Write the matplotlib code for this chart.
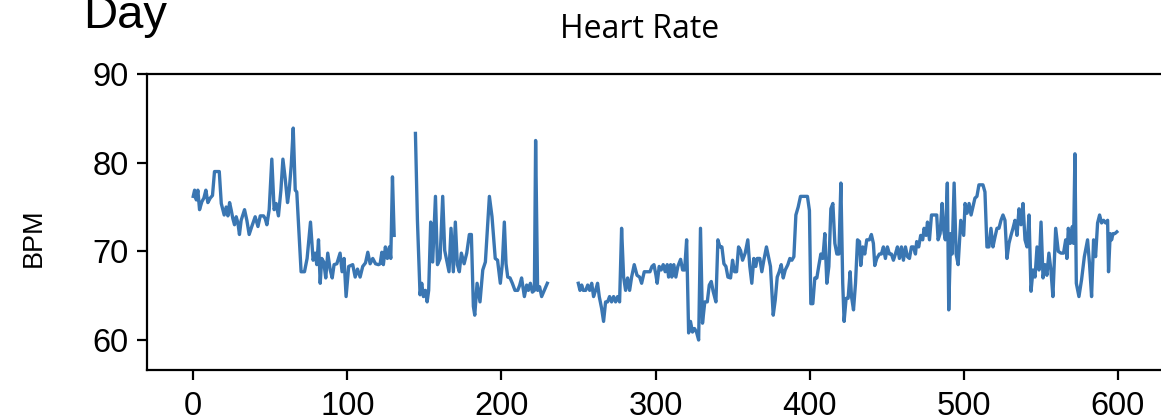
import numpy as np
import matplotlib
matplotlib.use("Agg")
import matplotlib.pyplot as plt

nan = np.nan

day = [
    0, 0.9, 2.0, 3.0, 4.1, 5.6, 6.9, 8.2, 9.5, 11.0,
    12.5, 13.8, 15.3, 16.9, 18.2, 20.1, 21.4, 22.5, 23.6, 24.6,
    25.7, 26.8, 27.9, 29.0, 30.0, 31.1, 33.3, 34.8, 36.3, 38.0,
    40.2, 42.0, 43.5, 45.6, 46.7, 47.8, 49.3, 51.0, 52.5, 53.8,
    55.3, 56.9, 58.2, 59.7, 61.2, 62.3, 63.6, 64.9, 66.2, 67.2,
    70.0, 72.2, 73.9, 76.1, 77.8, 79.1, 80.2, 81.3, 82.4, 83.4,
    84.7, 86.0, 87.3, 88.9, 90.2, 91.4, 93.2, 95.3, 96.6, 97.9,
    99.2, 100.9, 103.5, 105.1, 106.6, 108.3, 110.0, 111.8, 113.3, 114.8,
    116.5, 118.3, 120.2, 121.3, 122.4, 123.4, 124.7, 126.0, 127.3, 128.2,
    129.3, 130.4,
    137,
    144.2, 145.5, 147.2, 148.3, 149.4, 150.7, 151.8, 152.8, 154.1, 155.4,
    157.2, 158.5, 160.2, 161.9, 163.2, 164.5, 166.0, 167.3, 168.8, 170.1,
    171.4, 172.7, 174.0, 175.8, 177.5, 179.2, 180.5, 181.8, 182.7, 184.2,
    186.1, 187.9, 189.6, 192.2, 193.9, 196.0, 197.5, 199.3, 200.6, 201.9,
    203.0, 204.1, 205.6, 207.1, 208.8, 210.6, 211.9, 213.1, 214.9, 216.4,
    217.5, 218.8, 220.1, 221.4, 222.2, 223.5, 224.8, 226.1, 227.8, 229.8,
    240,
    249.9, 251.0, 252.1, 253.1, 254.7, 256.0, 257.3, 258.6, 259.8, 261.1,
    262.4, 263.5, 265.0, 266.3, 267.6, 268.9, 270.2, 271.5, 272.8, 274.1,
    275.4, 276.7, 278.0, 279.3, 280.6, 281.9, 283.2, 284.5, 286.2, 288.0,
    289.7, 291.0, 292.7, 294.9, 296.4, 297.7, 299.0, 300.3, 301.1, 302.4,
    303.7, 305.0, 306.3, 307.6, 308.5, 309.8, 310.6, 311.9, 313.2, 314.5,
    316.3, 317.6, 318.9, 320.2, 321.5, 322.7, 324.0, 325.3, 326.6, 328.0,
    329.2, 330.5, 332.0, 333.6, 334.9, 336.2, 337.4, 339.2, 340.5, 341.8,
    343.1, 344.4, 345.7, 347.0, 348.7, 350.0, 351.3, 352.6, 353.9, 355.2,
    356.5, 358.2, 359.9, 361.2, 362.5, 363.8, 365.1, 366.0, 367.7, 369.0,
    370.3, 372.0, 373.3, 374.6, 376.4, 377.7, 379.0, 380.3, 381.6, 382.9,
    384.2, 385.9, 387.2, 388.5, 389.8, 391.1, 392.6, 394.1, 395.8, 397.5,
    398.6, 399.9, 400.8, 402.1, 403.4, 404.7, 406.0, 407.3, 408.6, 409.9,
    411.2, 412.5, 413.8, 415.1, 416.4, 417.7, 419.0, 420.3, 421.5, 422.4,
    423.7, 425.0, 426.3, 427.2, 428.5, 429.8, 431.1, 432.4, 433.2, 434.5,
    435.8, 437.1, 438.8, 440.1, 441.4, 442.3, 443.6, 445.3, 446.6, 447.9,
    449.2, 450.5, 451.8, 453.1, 454.4, 455.7, 457.0, 458.3, 459.6, 460.9,
    462.2, 463.5, 464.8, 466.1, 467.4, 468.7, 469.5, 470.8, 472.1, 473.4,
    474.3, 475.6, 476.5, 477.8, 479.1, 481.2, 482.5, 483.4, 484.7, 486.0,
    486.8, 488.1, 489.4, 490.3, 491.6, 492.5, 493.8, 495.1, 496.4, 498.1,
    500.0, 500.9, 502.2, 503.5, 504.8, 506.0, 507.3, 508.6, 509.9, 511.2,
    512.5, 513.8, 515.1, 516.4, 517.7, 519.0, 520.3, 521.6, 522.9, 524.2,
    525.5, 526.8, 528.1, 529.4, 530.7, 532.0, 533.3, 534.6, 535.9, 537.2,
    538.5, 539.8, 541.1, 542.4, 543.7, 545.0, 546.3, 547.6, 548.9, 550.2,
    551.5, 552.8, 554.0, 555.3, 556.6, 557.9, 559.7, 561.4, 563.1, 564.8,
    566.2, 567.0, 567.9, 569.2, 570.5, 571.3, 572.2, 573.1, 574.8, 576.5,
    578.3, 580.4, 581.7, 583.0, 584.3, 585.6, 586.9, 588.2, 589.5, 590.8,
    592.1, 593.4, 594.0, 595.1, 596.0, 596.9, 598.1, 599.4,
]

bpm = [
    76.2, 76.9, 75.8, 76.9, 74.7, 75.6, 76.0, 76.9, 75.5, 76.0,
    76.3, 79.0, 79.0, 79.0, 75.4, 74.1, 75.0, 74.0, 75.5, 74.7,
    73.7, 73.0, 73.9, 73.2, 71.9, 73.5, 74.7, 73.5, 71.9, 72.8,
    73.9, 72.8, 74.0, 74.0, 73.7, 73.0, 74.7, 80.4, 74.7, 75.4,
    74.0, 76.9, 80.4, 78.2, 75.5, 76.9, 79.7, 83.9, 76.9, 76.7,
    67.7, 67.7, 69.2, 73.3, 69.0, 69.8, 68.5, 71.3, 66.4, 69.2,
    68.8, 67.0, 69.8, 67.9, 67.0, 68.5, 68.6, 69.8, 67.7, 69.2,
    64.9, 68.3, 68.5, 67.1, 68.0, 67.1, 68.3, 68.7, 69.9, 68.6,
    69.2, 68.6, 68.5, 68.6, 69.9, 68.5, 70.5, 69.2, 70.5, 69.2,
    78.4, 71.8,
    nan,
    83.3, 73.5, 65.1, 66.4, 64.9, 65.6, 64.3, 65.6, 73.3, 68.8,
    76.2, 68.5, 69.2, 76.2, 70.1, 69.0, 67.7, 72.6, 67.7, 73.3,
    68.5, 67.7, 69.8, 68.6, 69.8, 71.9, 71.9, 63.8, 62.8, 66.4,
    64.3, 67.9, 68.8, 76.2, 73.9, 69.2, 69.0, 66.4, 68.6, 73.3,
    68.6, 67.1, 67.0, 66.4, 65.6, 65.6, 66.2, 67.0, 64.9, 66.2,
    65.6, 66.4, 65.4, 65.6, 82.5, 65.6, 66.0, 64.9, 65.6, 66.4,
    nan,
    66.4, 65.6, 66.2, 65.6, 65.6, 66.2, 65.6, 66.4, 64.9, 65.6,
    66.4, 64.9, 63.6, 62.1, 64.3, 64.3, 64.9, 64.3, 64.9, 64.3,
    64.9, 64.3, 72.6, 67.1, 65.6, 67.0, 65.6, 67.1, 68.5, 67.3,
    67.1, 66.4, 67.7, 67.7, 67.7, 68.3, 68.5, 67.3, 66.4, 68.3,
    67.9, 68.5, 67.7, 68.5, 67.1, 68.5, 67.1, 68.5, 67.1, 68.3,
    69.1, 67.9, 67.9, 71.3, 60.8, 62.1, 60.9, 61.3, 60.9, 60.0,
    72.6, 61.9, 64.3, 64.3, 66.2, 66.6, 65.5, 64.3, 71.3, 70.5,
    70.5, 68.6, 68.3, 67.1, 67.0, 69.0, 67.7, 67.7, 70.5, 70.1,
    69.0, 69.8, 71.3, 68.3, 66.4, 69.2, 68.3, 69.2, 69.2, 67.7,
    69.0, 70.5, 69.4, 68.3, 62.8, 64.5, 67.1, 67.7, 68.5, 67.0,
    67.9, 68.5, 69.2, 69.0, 69.4, 74.1, 75.0, 76.2, 76.2, 76.2,
    76.2, 74.6, 64.1, 64.1, 67.0, 67.0, 68.4, 69.7, 69.2, 72.0,
    66.4, 68.3, 74.8, 75.4, 70.9, 69.7, 69.7, 77.7, 66.4, 62.1,
    64.7, 64.7, 67.7, 64.9, 63.4, 66.4, 71.3, 71.1, 68.4, 70.5,
    69.7, 71.3, 71.3, 71.9, 70.9, 68.4, 69.2, 69.7, 69.7, 70.5,
    69.2, 70.5, 69.7, 69.7, 69.0, 69.7, 70.5, 69.2, 70.5, 69.0,
    70.5, 69.4, 69.2, 70.5, 70.5, 69.7, 71.1, 70.5, 71.8, 71.3,
    72.6, 71.8, 73.3, 71.3, 74.1, 74.1, 74.1, 71.3, 72.0, 75.4,
    72.6, 71.3, 77.7, 63.4, 72.0, 69.7, 77.7, 69.7, 68.5, 73.5,
    71.8, 75.4, 74.3, 75.4, 74.1, 75.0, 76.0, 76.2, 77.5, 77.5,
    77.5, 76.7, 70.5, 70.5, 72.6, 70.5, 71.6, 72.6, 72.6, 73.5,
    74.1, 73.5, 69.2, 70.9, 71.8, 72.6, 73.5, 71.8, 74.8, 73.0,
    75.4, 71.3, 70.5, 74.1, 65.5, 67.9, 67.1, 70.5, 67.9, 73.3,
    67.0, 68.5, 67.3, 69.8, 67.9, 64.9, 72.6, 70.0, 69.8, 69.8,
    71.3, 69.2, 72.6, 70.9, 72.8, 70.9, 81.0, 66.4, 64.9, 66.8,
    69.4, 71.3, 68.5, 64.9, 71.3, 69.4, 73.2, 74.1, 73.2, 73.5,
    73.2, 73.5, 67.7, 72.0, 71.3, 72.0, 72.0, 72.2,
]

x_ticks = [0, 100, 200, 300, 400, 500, 600]
y_ticks = [60, 70, 80, 90]

fig = plt.figure(figsize=(11.61, 4.2), dpi=100)
ax = fig.add_axes([147 / 1161, 1 - 370 / 420, (1164 - 147) / 1161, (370 - 74) / 420])

ax.plot(day, bpm, color="#3a76b2", linewidth=2.4, solid_joinstyle="round")

ax.set_xlim(-30, 630)
ax.set_ylim(56.62, 90)
ax.set_xticks(x_ticks)
ax.set_yticks(y_ticks)

for s in ax.spines.values():
    s.set_linewidth(1.6)
    s.set_color("black")

ax.tick_params(axis="both", which="major", length=7, width=1.6, labelsize=23.5)
ax.tick_params(axis="x", pad=8)
ax.tick_params(axis="y", pad=6)
for lab in ax.get_xticklabels() + ax.get_yticklabels():
    lab.set_fontfamily("Liberation Sans")

fig.text(34 / 1161, 1 - 238 / 420, "BPM", rotation=90, ha="center", va="center",
         fontsize=19.5, family="Liberation Sans")
fig.text(640 / 1161, 1 - 38 / 420, "Heart Rate", ha="center", va="baseline",
         fontsize=23, family="Open Sans")
fig.text(83 / 1161, 1 - 28 / 420, "Day", ha="left", va="baseline",
         fontsize=34, family="Liberation Sans")

fig.savefig("out.png", dpi=100)
